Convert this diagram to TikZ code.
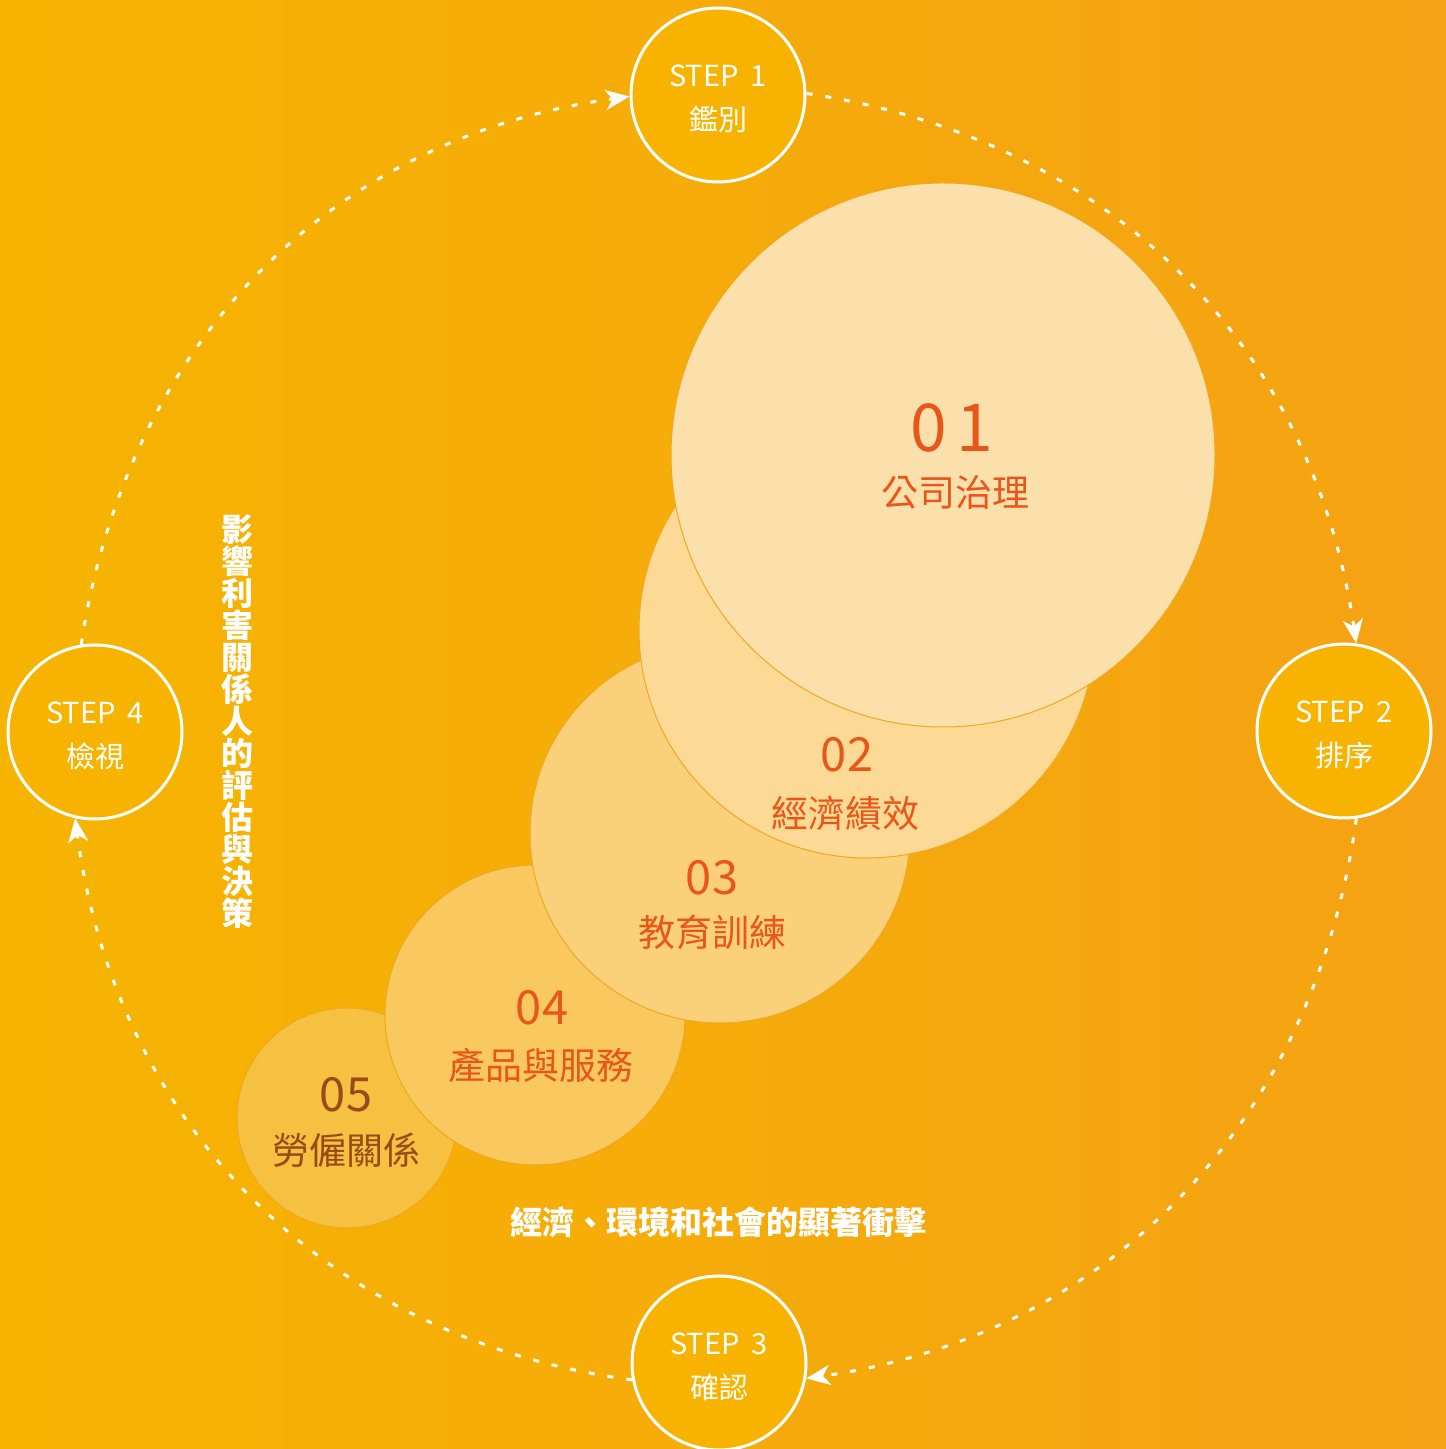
\documentclass[tikz,border=0pt]{standalone}
\usepackage{fontspec}
\setmainfont{Noto Sans CJK TC}
\usetikzlibrary{arrows.meta}
\definecolor{bgL}{HTML}{F6B400}
\definecolor{bgR}{HTML}{F5A214}
\definecolor{stepfill}{HTML}{F7B300}
\definecolor{rimc}{HTML}{EFA820}
\definecolor{numc}{HTML}{E8561A}
\definecolor{numd}{HTML}{9A4A18}
\definecolor{f1}{HTML}{FCE0AB}
\definecolor{f2}{HTML}{FCD994}
\definecolor{f3}{HTML}{FBD07A}
\definecolor{f4}{HTML}{F9C85E}
\definecolor{f5}{HTML}{F6C040}
\begin{document}
\begin{tikzpicture}[x=1pt,y=1pt,
  stepc/.style={circle, draw=white, line width=3pt, fill=stepfill, minimum size=174pt, inner sep=0pt},
  stepl/.style={text=white, align=center, inner sep=0pt, yshift=-4pt, font=\fontsize{29}{44}\selectfont},
  bigc/.style={circle, draw=rimc, line width=1pt, inner sep=0pt},
  num/.style={text=numc, inner sep=0pt, font=\fontsize{47}{47}\selectfont},
  lab/.style={text=numc, inner sep=0pt, font=\fontsize{37}{37}\selectfont},
  flow/.style={white, line width=3pt, dash pattern=on 6pt off 13pt, -{Stealth[length=24pt,width=20pt,inset=7pt]}},
  boldw/.style={text=white, inner sep=0pt, font=\fontsize{32}{32}\selectfont\bfseries}]
\fill[left color=bgL, right color=bgR] (0,0) rectangle (1446,1449);
\useasboundingbox (0,0) rectangle (1446,1449);

% step circles
\node[stepc, label={[stepl]center:STEP\hspace{12pt}1\\鑑別}] (s1) at (718,1354) {};
\node[stepc, label={[stepl]center:STEP\hspace{12pt}2\\排序}] (s2) at (1344,718) {};
\node[stepc, label={[stepl]center:STEP\hspace{12pt}3\\確認}] (s3) at (719,86) {};
\node[stepc, label={[stepl]center:STEP\hspace{12pt}4\\檢視}] (s4) at (95,717) {};

% dashed cycle
\draw[flow] (s1.1) to[out=-8.4,in=98.4] (s2.82);
\draw[flow] (s2.-82) to[out=-97.9,in=8] (s3.-10);
\draw[flow] (s3.191) to[out=172.4,in=-82.4] (s4.257);
\draw[flow] (s4.99) to[out=81.3,in=187.8] (s1.181);

% topic circles
\node[bigc, fill=f5, minimum size=220pt] (c5) at (347,331) {};
\node[bigc, fill=f4, minimum size=300pt] (c4) at (535,434) {};
\node[bigc, fill=f3, minimum size=380pt] (c3) at (720,616) {};
\node[bigc, fill=f2, minimum size=456pt] (c2) at (867,819) {};
\node[bigc, fill=f1, minimum size=544pt] (c1) at (943,994) {};

\node[num, font=\fontsize{66}{66}\selectfont] (n1) at (952,1021) {0\hspace{10pt}1};
\node[lab] (l1) at (955,957) {公司治理};
\node[num] (n2) at (847,694) {02};
\node[lab] (l2) at (845,636) {經濟績效};
\node[num] (n3) at (712,571) {03};
\node[lab] (l3) at (712,517) {教育訓練};
\node[num] (n4) at (542,441) {04};
\node[lab] (l4) at (541,384) {產品與服務};
\node[num, text=numd] (n5) at (346,354) {05};
\node[lab, text=numd] (l5) at (346,299) {勞僱關係};

% white bold captions
\node[boldw, align=center] (vt) at (237,727) {影\\響\\利\\害\\關\\係\\人\\的\\評\\估\\與\\決\\策};
\node[boldw] (ht) at (718,227) {經濟、環境和社會的顯著衝擊};
\end{tikzpicture}
\end{document}
